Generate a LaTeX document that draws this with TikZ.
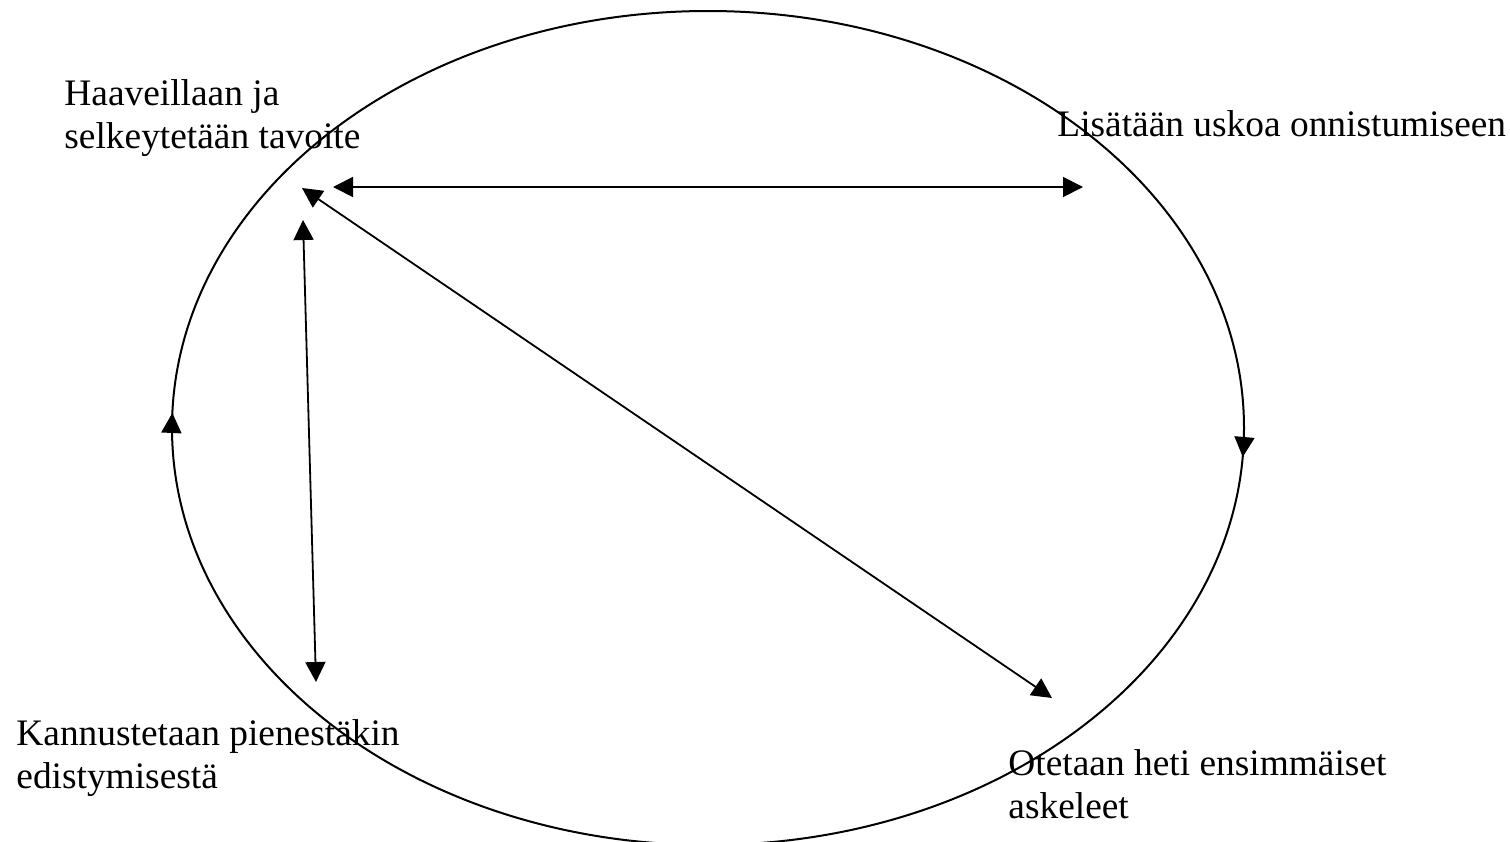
\documentclass[tikz,border=0pt]{standalone}
\usepackage{fontspec}
\setmainfont{Liberation Serif}
\usetikzlibrary{arrows.meta,decorations.markings}
\tikzset{
  tip/.tip={Triangle[length=10pt,width=10pt]},
  lbl/.style={inner sep=0pt, anchor=base west, font=\fontsize{18.7}{21.5}\selectfont},
  conn/.style={line width=0.9pt, {tip}-{tip}},
  ring/.style={line width=1pt},
}
\begin{document}
\begin{tikzpicture}[x=0.5pt,y=-0.5pt]
\useasboundingbox (0,0) rectangle (1510,841);
\begin{scope}
\clip (0,0) rectangle (1510,841);
\draw[ring, decoration={markings,
    mark=at position 14.5pt with {\arrow{tip}},
    mark=at position 0.505 with {\arrow{tip}}},
  postaction={decorate}]
  (708,428) ellipse [x radius=536, y radius=417];
\end{scope}

\node[lbl] (haave) at (64,105) {\begin{tabular}[t]{@{}l@{}}Haaveillaan ja\\selkeytetään tavoite\end{tabular}};
\node[lbl] (usko) at (1057,136) {Lisätään uskoa onnistumiseen};
\node[lbl] (kannus) at (16,745) {\begin{tabular}[t]{@{}l@{}}Kannustetaan pienestäkin\\edistymisestä\end{tabular}};
\node[lbl] (askel) at (1008,775) {\begin{tabular}[t]{@{}l@{}}Otetaan heti ensimmäiset\\askeleet\end{tabular}};

\coordinate (hL) at (333,187);
\coordinate (hR) at (1083,187);
\coordinate (dT) at (302,188);
\coordinate (dB) at (1052,698);
\coordinate (vT) at (303,220);
\coordinate (vB) at (316,682);

\draw[conn] (hL) -- (hR);
\draw[conn] (dT) -- (dB);
\draw[conn] (vT) -- (vB);
\end{tikzpicture}
\end{document}
